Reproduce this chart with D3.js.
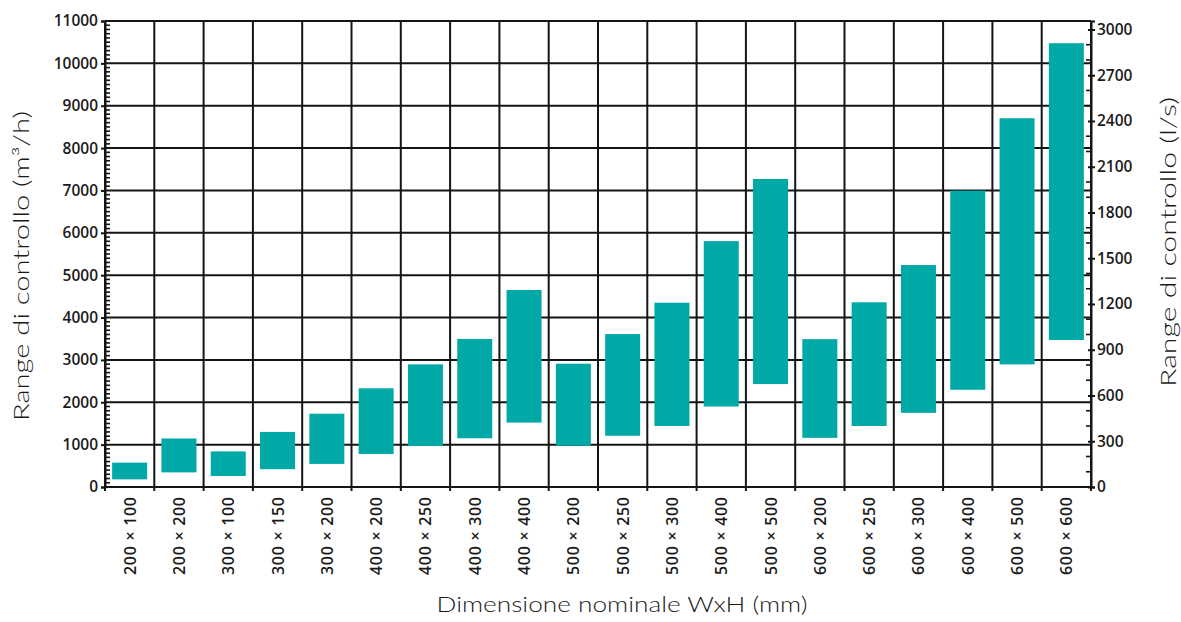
<!DOCTYPE html>
<html>
<head>
<meta charset="utf-8">
<script src="https://cdn.jsdelivr.net/npm/d3@7"></script>
<style>
  html, body { margin: 0; padding: 0; background: #ffffff; }
  svg { display: block; }
  .tick-label { font-family: "Open Sans", "Noto Sans", sans-serif; font-weight: 600; fill: #1a1a1a; }
  .title { font-family: "Lato", "Noto Sans", sans-serif; font-weight: 300; fill: #1a1a1a; }
</style>
</head>
<body>
<svg id="chart" width="1181" height="622"></svg>
<script>
// ---- data ----
const categories = [
  "200 × 100", "200 × 200", "300 × 100", "300 × 150", "300 × 200",
  "400 × 200", "400 × 250", "400 × 300", "400 × 400", "500 × 200",
  "500 × 250", "500 × 300", "500 × 400", "500 × 500", "600 × 200",
  "600 × 250", "600 × 300", "600 × 400", "600 × 500", "600 × 600"
];
const minFlow = [180, 345, 260, 420, 545, 780, 970, 1150, 1520, 975,
                 1210, 1440, 1900, 2430, 1160, 1440, 1750, 2295, 2895, 3470];
const maxFlow = [575, 1145, 840, 1300, 1730, 2330, 2895, 3495, 4650, 2910,
                 3610, 4350, 5805, 7270, 3490, 4360, 5240, 6995, 8705, 10475];
const leftTicks = [0, 1000, 2000, 3000, 4000, 5000, 6000, 7000, 8000, 9000, 10000, 11000];
const rightTicks = [0, 300, 600, 900, 1200, 1500, 1800, 2100, 2400, 2700, 3000];
const leftTitle = "Range di controllo (m³/h)";
const rightTitle = "Range di controllo (l/s)";
const xTitle = "Dimensione nominale WxH (mm)";

// ---- layout ----
const svg = d3.select("#chart");
const L = 105, R = 1091, T = 21, B = 487;
const teal = "#00a9a6";
const ink = "#151515";

const x = d3.scaleBand().domain(categories).range([L, R]).paddingInner(0.29).paddingOuter(0.145);
const y = d3.scaleLinear().domain([0, 11000]).range([B, T]);
const yR = d3.scaleLinear().domain([0, 11000 / 3.6]).range([B, T]);
const step = x.step();

// grid horizontal
svg.append("g").selectAll("line").data(leftTicks).join("line")
  .attr("x1", L).attr("x2", R)
  .attr("y1", d => y(d)).attr("y2", d => y(d))
  .attr("stroke", ink).attr("stroke-width", 2);

// grid vertical (category boundaries)
const bounds = d3.range(categories.length + 1).map(i => L + i * step);
svg.append("g").selectAll("line").data(bounds).join("line")
  .attr("x1", d => d).attr("x2", d => d)
  .attr("y1", T).attr("y2", B + 4)
  .attr("stroke", ink).attr("stroke-width", 2);

// bars
svg.append("g").selectAll("rect").data(categories).join("rect")
  .attr("x", d => x(d))
  .attr("width", x.bandwidth())
  .attr("y", (d, i) => y(maxFlow[i]))
  .attr("height", (d, i) => y(minFlow[i]) - y(maxFlow[i]))
  .attr("fill", teal);

// left axis
const gL = svg.append("g").attr("transform", `translate(${L},0)`);
gL.call(d3.axisLeft(y).tickValues(leftTicks).tickSize(4).tickPadding(3).tickFormat(d3.format("d")));
gL.select(".domain").attr("stroke", ink).attr("stroke-width", 2);
gL.selectAll(".tick line").attr("stroke", ink).attr("stroke-width", 2);
gL.selectAll(".tick text").attr("class", "tick-label").style("font-size", "15.5px");
// left minor ticks (inside)
gL.append("g").selectAll("line").data(d3.range(0, 11001, 100).filter(v => v % 1000 !== 0)).join("line")
  .attr("x1", 0).attr("x2", 5).attr("y1", d => y(d)).attr("y2", d => y(d))
  .attr("stroke", ink).attr("stroke-width", 1.6);

// right axis
const gR = svg.append("g").attr("transform", `translate(${R},0)`);
gR.call(d3.axisRight(yR).tickValues(rightTicks).tickSize(4).tickPadding(2).tickFormat(d3.format("d")));
gR.select(".domain").attr("stroke", ink).attr("stroke-width", 2);
gR.selectAll(".tick line").attr("stroke", ink).attr("stroke-width", 2).attr("x1", -3);
gR.selectAll(".tick text").attr("class", "tick-label").style("font-size", "15.5px");
gR.append("g").selectAll("line").data(d3.range(0, 3001, 100).filter(v => v % 300 !== 0)).join("line")
  .attr("x1", -5).attr("x2", 0).attr("y1", d => yR(d)).attr("y2", d => yR(d))
  .attr("stroke", ink).attr("stroke-width", 1.6);

// top border and bottom axis
svg.append("line").attr("x1", L).attr("x2", R).attr("y1", T).attr("y2", T)
  .attr("stroke", ink).attr("stroke-width", 2);
const gB = svg.append("g").attr("transform", `translate(0,${B})`);
gB.call(d3.axisBottom(x).tickSize(0).tickPadding(0));
gB.select(".domain").remove();
gB.selectAll(".tick text")
  .attr("class", "tick-label")
  .style("font-size", "16px")
  .attr("text-anchor", "end")
  .attr("dominant-baseline", "central")
  .attr("transform", "translate(0,10) rotate(-90)")
  .attr("textLength", 78).attr("lengthAdjust", "spacing")
  .attr("x", 0).attr("y", 0).attr("dy", null);

// titles
svg.append("text").attr("class", "title")
  .attr("transform", `translate(29,${(T + B) / 2 + 12}) rotate(-90)`)
  .attr("text-anchor", "middle")
  .style("font-size", "21px")
  .attr("textLength", 310).attr("lengthAdjust", "spacingAndGlyphs")
  .text(leftTitle);
svg.append("text").attr("class", "title")
  .attr("transform", `translate(1176,${(T + B) / 2 - 12}) rotate(-90)`)
  .attr("text-anchor", "middle")
  .style("font-size", "21px")
  .attr("textLength", 290).attr("lengthAdjust", "spacingAndGlyphs")
  .text(rightTitle);
svg.append("text").attr("class", "title")
  .attr("x", (L + R) / 2 + 24).attr("y", 612)
  .attr("text-anchor", "middle")
  .style("font-size", "21px")
  .attr("textLength", 371).attr("lengthAdjust", "spacingAndGlyphs")
  .text(xTitle);
</script>
</body>
</html>
